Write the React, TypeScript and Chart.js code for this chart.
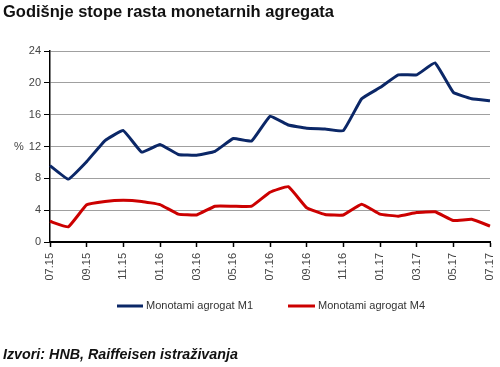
import React, { useEffect, useRef } from 'react';
import { Chart, registerables } from 'chart.js';

Chart.register(...registerables);

const months = [
  '07.15', '08.15', '09.15', '10.15', '11.15', '12.15', '01.16', '02.16', '03.16',
  '04.16', '05.16', '06.16', '07.16', '08.16', '09.16', '10.16', '11.16', '12.16',
  '01.17', '02.17', '03.17', '04.17', '05.17', '06.17', '07.17',
];
const m1Values = [
  9.6, 7.9, 10.1, 12.75, 14.0, 11.3, 12.25, 11.0, 10.9, 11.4, 13.0, 12.7, 15.8,
  14.7, 14.3, 14.2, 14.0, 18.0, 19.4, 21.0, 21.0, 22.5, 18.8, 18.0, 17.75,
];
const m4Values = [
  2.6, 1.9, 4.67, 5.1, 5.25, 5.1, 4.7, 3.5, 3.4, 4.5, 4.5, 4.5, 6.25,
  6.95, 4.3, 3.45, 3.4, 4.75, 3.5, 3.25, 3.7, 3.8, 2.7, 2.85, 2.0,
];
const seriesNames = ['Monotami agrogat M1', 'Monotami agrogat M4'];
const seriesColors = ['#0b2767', '#cc0000'];
const yTickStep = 4;
const yMin = 0;
const yMax = 24;
const yAxisLabel = '%';
const titleText = 'Godišnje stope rasta monetarnih agregata';
const sourceText = 'Izvori: HNB, Raiffeisen istraživanja';

const FONT = "'Liberation Sans', Arial, sans-serif";

const customDraw = {
  id: 'customDraw',
  afterDraw(chart: any) {
    const ctx = chart.ctx;
    const x = chart.scales.x;
    const y = chart.scales.y;
    ctx.save();
    // rotated x labels (bottom-to-top)
    ctx.fillStyle = '#444';
    ctx.font = `11px ${FONT}`;
    ctx.textAlign = 'right';
    ctx.textBaseline = 'middle';
    months.forEach((m, i) => {
      if (i % 2 !== 0) return;
      const px = x.getPixelForValue(i);
      ctx.save();
      ctx.translate(px, chart.chartArea.bottom + 11);
      ctx.rotate(-Math.PI / 2);
      ctx.fillText(m, 0, 0);
      ctx.restore();
    });
    // % label
    ctx.textAlign = 'left';
    ctx.font = `11px ${FONT}`;
    ctx.fillText(yAxisLabel, 14, y.getPixelForValue(12));
    // legend
    const legendY = 306;
    const items = [
      { x0: 117, x1: 143, tx: 146 },
      { x0: 288, x1: 315, tx: 318 },
    ];
    items.forEach((it, i) => {
      ctx.strokeStyle = seriesColors[i];
      ctx.lineWidth = 3;
      ctx.beginPath();
      ctx.moveTo(it.x0, legendY);
      ctx.lineTo(it.x1, legendY);
      ctx.stroke();
      ctx.fillStyle = '#333';
      ctx.textAlign = 'left';
      ctx.textBaseline = 'middle';
      ctx.font = `11px ${FONT}`;
      ctx.fillText(seriesNames[i], it.tx, legendY);
    });
    ctx.restore();
  },
};

export default function App() {
  const canvasRef = useRef<HTMLCanvasElement | null>(null);

  useEffect(() => {
    if (!canvasRef.current) return;
    const chart = new Chart(canvasRef.current, {
      type: 'line',
      data: {
        labels: months,
        datasets: [
          {
            label: seriesNames[0],
            data: m1Values,
            borderColor: seriesColors[0],
            backgroundColor: seriesColors[0],
            borderWidth: 3,
            pointRadius: 0,
            tension: 0.1,
          },
          {
            label: seriesNames[1],
            data: m4Values,
            borderColor: seriesColors[1],
            backgroundColor: seriesColors[1],
            borderWidth: 3,
            pointRadius: 0,
            tension: 0.1,
          },
        ],
      },
      options: {
        responsive: false,
        animation: false,
        layout: { padding: { left: 0, right: 10, top: 51, bottom: 85 } },
        plugins: {
          legend: { display: false },
          title: { display: false },
          tooltip: { enabled: false },
        },
        scales: {
          x: {
            type: 'category',
            offset: false,
            grid: {
              drawOnChartArea: false,
              drawTicks: true,
              tickLength: 5,
              tickWidth: 1.5,
              tickColor: (c: any) => (c.index % 2 === 0 ? '#000' : 'rgba(0,0,0,0)'),
            },
            border: { color: '#000', width: 2 },
            ticks: { display: false },
            afterFit: (s: any) => {
              s.height = 40;
            },
          },
          y: {
            min: yMin,
            max: yMax,
            ticks: {
              stepSize: yTickStep,
              color: '#444',
              font: { size: 11, family: FONT },
              padding: 3,
            },
            grid: {
              color: '#a0a0a0',
              lineWidth: 1,
              tickColor: '#000',
              tickLength: 6,
            },
            border: { color: '#000', width: 1.5 },
            afterFit: (s: any) => {
              s.width = 50;
            },
          },
        },
      },
      plugins: [customDraw],
    });
    return () => chart.destroy();
  }, []);

  return (
    <div style={{ position: 'absolute', left: 0, top: 0, width: 500, height: 367, background: '#fff' }}>
      <canvas ref={canvasRef} width={500} height={367} style={{ position: 'absolute', left: 0, top: 0 }} />
      <div
        style={{
          position: 'absolute',
          left: 3,
          top: 2,
          fontFamily: FONT,
          fontWeight: 'bold',
          fontSize: 16.5,
          color: '#111',
          whiteSpace: 'nowrap',
        }}
      >
        {titleText}
      </div>
      <div
        style={{
          position: 'absolute',
          left: 3,
          top: 346,
          fontFamily: FONT,
          fontWeight: 'bold',
          fontStyle: 'italic',
          fontSize: 14.3,
          color: '#111',
          whiteSpace: 'nowrap',
        }}
      >
        {sourceText}
      </div>
    </div>
  );
}
